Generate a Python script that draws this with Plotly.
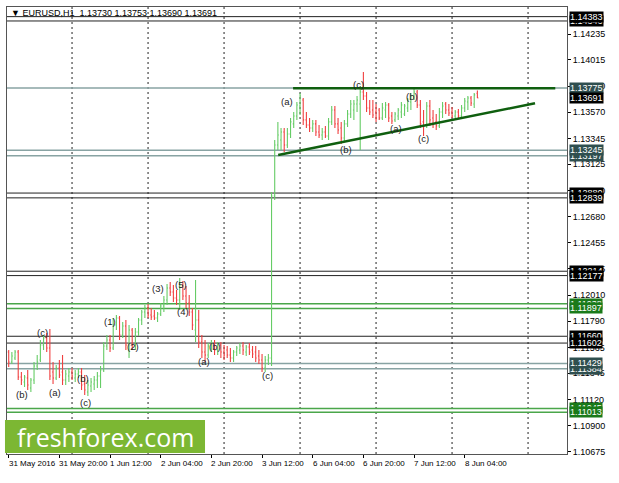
import plotly.graph_objects as go

# ---- data (EURUSD H1) ----
opens = [1.11526,1.11441,1.11475,1.11526,1.11313,1.11270,1.11304,1.11219,1.11287,1.11407,
         1.11458,1.11586,1.11645,1.11560,1.11356,1.11304,1.11390,1.11356,1.11287,1.11322,
         1.11356,1.11304,1.11339,1.11356,1.11253,1.11185,1.11236,1.11253,1.11287,1.11322,
         1.11373,1.11577,1.11628,1.11560,1.11756,1.11816,1.11671,1.11748,1.11543,1.11713,
         1.11586,1.11696,1.11799,1.11867,1.11901,1.11841,1.11833,1.11816,1.11850,1.11918,
         1.11969,1.12071,1.12037,1.11986,1.11969,1.12097,1.12003,1.11943,1.11867,1.11713,
         1.11799,1.11611,1.11526,1.11500,1.11560,1.11603,1.11543,1.11586,1.11526,1.11543,
         1.11500,1.11475,1.11526,1.11543,1.11577,1.11526,1.11569,1.11543,1.11526,1.11492,
         1.11458,1.11390,1.11458,1.11475,1.12855,1.13290,1.13332,1.13400,1.13290,1.13383,
         1.13469,1.13537,1.13622,1.13673,1.13503,1.13460,1.13434,1.13469,1.13400,1.13375,
         1.13400,1.13366,1.13486,1.13588,1.13469,1.13434,1.13349,1.13469,1.13554,1.13588,
         1.13639,1.13639,1.13741,1.13707,1.13605,1.13588,1.13571,1.13588,1.13520,1.13588,
         1.13630,1.13537,1.13503,1.13537,1.13571,1.13554,1.13605,1.13656,1.13707,1.13741,
         1.13630,1.13486,1.13452,1.13622,1.13520,1.13486,1.13452,1.13571,1.13639,1.13588,
         1.13571,1.13537,1.13571,1.13537,1.13605,1.13656,1.13690,1.13639,1.13730]
highs = [1.11543,1.11526,1.11543,1.11543,1.11356,1.11330,1.11373,1.11304,1.11441,1.11500,
         1.11628,1.11671,1.11688,1.11722,1.11441,1.11415,1.11458,1.11500,1.11373,1.11390,
         1.11390,1.11373,1.11390,1.11390,1.11330,1.11287,1.11304,1.11322,1.11356,1.11407,
         1.11611,1.11671,1.11671,1.11816,1.11841,1.11833,1.11782,1.11799,1.11756,1.11730,
         1.11730,1.11816,1.11884,1.11926,1.11935,1.11901,1.11884,1.11867,1.11943,1.12003,
         1.12105,1.12122,1.12097,1.12054,1.12156,1.12131,1.12088,1.12012,1.11901,1.12139,
         1.11884,1.11671,1.11628,1.11603,1.11628,1.11628,1.11611,1.11611,1.11586,1.11577,
         1.11560,1.11543,1.11577,1.11603,1.11611,1.11586,1.11603,1.11577,1.11577,1.11543,
         1.11509,1.11492,1.11509,1.12889,1.13332,1.13486,1.13434,1.13434,1.13434,1.13520,
         1.13571,1.13656,1.13733,1.13690,1.13571,1.13520,1.13503,1.13503,1.13460,1.13434,
         1.13452,1.13520,1.13622,1.13622,1.13520,1.13486,1.13503,1.13588,1.13673,1.13673,
         1.13707,1.13792,1.13912,1.13741,1.13673,1.13673,1.13639,1.13605,1.13647,1.13656,
         1.13647,1.13571,1.13571,1.13605,1.13656,1.13639,1.13690,1.13733,1.13775,1.13758,
         1.13673,1.13588,1.13656,1.13673,1.13588,1.13554,1.13605,1.13656,1.13656,1.13639,
         1.13613,1.13588,1.13596,1.13630,1.13690,1.13707,1.13707,1.13733,1.13753]
lows = [1.11398,1.11424,1.11458,1.11287,1.11245,1.11228,1.11202,1.11185,1.11253,1.11373,
        1.11441,1.11543,1.11526,1.11287,1.11253,1.11287,1.11304,1.11245,1.11245,1.11270,
        1.11287,1.11270,1.11304,1.11202,1.11160,1.11151,1.11185,1.11202,1.11219,1.11219,
        1.11356,1.11543,1.11526,1.11543,1.11713,1.11628,1.11645,1.11543,1.11475,1.11543,
        1.11543,1.11662,1.11756,1.11816,1.11816,1.11799,1.11799,1.11782,1.11833,1.11867,
        1.11926,1.12003,1.11952,1.11926,1.11884,1.11969,1.11901,1.11833,1.11713,1.11611,
        1.11560,1.11475,1.11441,1.11475,1.11526,1.11500,1.11500,1.11475,1.11458,1.11475,
        1.11441,1.11441,1.11492,1.11509,1.11500,1.11492,1.11500,1.11475,1.11441,1.11424,
        1.11356,1.11356,1.11415,1.11407,1.12821,1.13247,1.13247,1.13230,1.13264,1.13349,
        1.13434,1.13503,1.13545,1.13460,1.13434,1.13400,1.13400,1.13366,1.13349,1.13332,
        1.13349,1.13332,1.13460,1.13434,1.13383,1.13298,1.13315,1.13443,1.13520,1.13503,
        1.13571,1.13247,1.13673,1.13571,1.13545,1.13520,1.13486,1.13503,1.13503,1.13520,
        1.13486,1.13469,1.13486,1.13503,1.13520,1.13537,1.13571,1.13588,1.13673,1.13605,
        1.13434,1.13366,1.13434,1.13452,1.13434,1.13417,1.13434,1.13520,1.13554,1.13537,
        1.13520,1.13520,1.13511,1.13520,1.13571,1.13588,1.13622,1.13605,1.13690]
closes = [1.11441,1.11492,1.11526,1.11313,1.11287,1.11313,1.11245,1.11287,1.11407,1.11441,
          1.11586,1.11645,1.11560,1.11322,1.11304,1.11390,1.11330,1.11287,1.11339,1.11356,
          1.11322,1.11339,1.11356,1.11245,1.11202,1.11245,1.11270,1.11287,1.11322,1.11373,
          1.11577,1.11628,1.11560,1.11756,1.11816,1.11671,1.11748,1.11586,1.11713,1.11586,
          1.11696,1.11799,1.11867,1.11901,1.11841,1.11824,1.11816,1.11850,1.11918,1.11969,
          1.12071,1.12037,1.11986,1.11969,1.12097,1.12003,1.11943,1.11867,1.11756,1.11799,
          1.11611,1.11526,1.11500,1.11577,1.11603,1.11543,1.11586,1.11526,1.11500,1.11500,
          1.11475,1.11526,1.11560,1.11577,1.11543,1.11569,1.11526,1.11509,1.11475,1.11458,
          1.11390,1.11458,1.11475,1.12855,1.13290,1.13375,1.13400,1.13290,1.13383,1.13486,
          1.13537,1.13630,1.13707,1.13503,1.13460,1.13434,1.13469,1.13400,1.13375,1.13400,
          1.13366,1.13486,1.13588,1.13469,1.13417,1.13349,1.13469,1.13554,1.13639,1.13639,
          1.13673,1.13741,1.13707,1.13605,1.13571,1.13545,1.13520,1.13520,1.13605,1.13630,
          1.13520,1.13494,1.13554,1.13588,1.13630,1.13622,1.13673,1.13707,1.13741,1.13630,
          1.13469,1.13452,1.13622,1.13503,1.13469,1.13452,1.13571,1.13622,1.13588,1.13562,
          1.13537,1.13571,1.13537,1.13605,1.13664,1.13690,1.13647,1.13716,1.13691]

tick_idx = [0, 16, 32, 48, 64, 80, 96, 112, 128, 144]
tick_text = ["31 May 2016", "31 May 20:00", "1 Jun 12:00", "2 Jun 04:00", "2 Jun 20:00",
             "3 Jun 12:00", "6 Jun 04:00", "6 Jun 20:00", "7 Jun 12:00", "8 Jun 04:00"]
day_starts = [20, 44, 68, 92, 116, 140, 164]

price_ticks = [1.14235, 1.14015, 1.13790, 1.13570, 1.13345, 1.13125, 1.12900, 1.12680,
               1.12455, 1.12235, 1.12010, 1.11790, 1.11565, 1.11345, 1.11120, 1.10900, 1.10675]

# horizontal levels: (price, kind) -- drawn in order, later on top
levels = [(1.14346, "black"), (1.14383, "black"), (1.13775, "slate"),
          (1.13197, "slate"), (1.13245, "slate"), (1.12880, "black"), (1.12839, "black"),
          (1.12214, "black"), (1.12177, "black"), (1.11938, "green"), (1.11897, "green"),
          (1.11660, "black"), (1.11602, "black"), (1.11384, "slate"), (1.11429, "slate"),
          (1.11045, "green"), (1.11013, "green")]
current_price = 1.13691

# trend lines (bar index, price)
resist_line = [(89.8, 1.13773), (172.6, 1.13773)]
support_line = [(85.1, 1.13204), (166.2, 1.13645)]

# wave labels (bar index, price, text)
wave_labels = [(4.2, 1.11160, "(b)"), (10.8, 1.11688, "(c)"), (14.6, 1.11185, "(a)"),
               (23.5, 1.11304, "(b)"), (24.4, 1.11100, "(c)"), (32.0, 1.11782, "(1)"),
               (39.3, 1.11577, "(2)"), (47.1, 1.12071, "(3)"), (54.4, 1.12105, "(5)"),
               (55.0, 1.11875, "(4)"), (61.7, 1.11441, "(a)"), (65.1, 1.11569, "(b)"),
               (81.6, 1.11322, "(c)"), (87.9, 1.13664, "(a)"), (106.5, 1.13247, "(b)"),
               (110.6, 1.13801, "(c)"), (122.3, 1.13434, "(a)"), (127.3, 1.13699, "(b)"),
               (131.1, 1.13341, "(c)")]

header = "▼ EURUSD,H1  1.13730 1.13753 1.13690 1.13691"

# ---- styling ----
UP = "#66CC66"
DOWN = "#F04040"
line_col = {"black": "#222222", "slate": "#88a3a3", "green": "#4aa64a"}
line_w = {"black": 1, "slate": 1.5, "green": 1.5}
box_col = {"black": "#000000", "slate": "#2F4F4F", "green": "#1a7a1a"}
FONT = "Liberation Sans"

x = list(range(len(opens)))
fig = go.Figure(go.Ohlc(
    x=x, open=opens, high=highs, low=lows, close=closes,
    increasing=dict(line=dict(color=UP, width=1.1)),
    decreasing=dict(line=dict(color=DOWN, width=1.1)),
    tickwidth=0.3, hoverinfo="skip"))

shapes = []
for d in day_starts:
    shapes.append(dict(type="line", xref="x", yref="paper", x0=d, x1=d, y0=0, y1=1,
                       line=dict(color="#222222", width=1, dash="2px,3px"), layer="below"))
for p, k in levels:
    shapes.append(dict(type="line", xref="paper", yref="y", x0=0, x1=1, y0=p, y1=p,
                       line=dict(color=line_col[k], width=line_w[k]), layer="below"))
for ln in (resist_line, support_line):
    shapes.append(dict(type="line", xref="x", yref="y", x0=ln[0][0], y0=ln[0][1],
                       x1=ln[1][0], y1=ln[1][1], line=dict(color="#0f5f0f", width=2.5)))
# logo box
shapes.append(dict(type="rect", xref="paper", yref="paper", x0=-0.0036, x1=0.3536,
                   y0=0.002, y1=0.076, fillcolor="#7CB733", line=dict(width=0)))

ann = []
for p, k in levels:
    ann.append(dict(xref="paper", yref="y", x=1, y=p, xanchor="left", yanchor="middle",
                    xshift=2, text=f"{p:.5f}", showarrow=False, bgcolor=box_col[k],
                    font=dict(family=FONT, size=9, color="white"), borderpad=0))
ann.append(dict(xref="paper", yref="y", x=1, y=current_price, xanchor="left", yanchor="middle",
                xshift=2, text=f"{current_price:.5f}", showarrow=False, bgcolor="#000000",
                font=dict(family=FONT, size=9, color="white"), borderpad=0))
for i, t in zip(tick_idx, tick_text):
    ann.append(dict(xref="x", yref="paper", x=i, y=0, xanchor="left", yanchor="top",
                    xshift=-2, yshift=-3, text=t, showarrow=False,
                    font=dict(family=FONT, size=8, color="#000000")))
for i, p, t in wave_labels:
    ann.append(dict(xref="x", yref="y", x=i, y=p, text=t, showarrow=False,
                    font=dict(family=FONT, size=9.5, color="#222222")))
ann.append(dict(xref="paper", yref="paper", x=0.004, y=1, xanchor="left", yanchor="top",
                yshift=1, text=header, showarrow=False,
                font=dict(family=FONT, size=9, color="#000000")))
ann.append(dict(xref="paper", yref="paper", x=0.175, y=0.039, xanchor="center", yanchor="middle",
                text="freshforex.com", showarrow=False,
                font=dict(family="Open Sans", size=25, color="white")))

fig.update_layout(
    width=619, height=483,
    margin=dict(l=7, r=52, t=7, b=29),
    paper_bgcolor="white", plot_bgcolor="white",
    showlegend=False, shapes=shapes, annotations=ann,
    xaxis=dict(range=[-0.54, 176.3], rangeslider=dict(visible=False), showgrid=False,
               zeroline=False, tickvals=tick_idx, ticktext=[""] * len(tick_idx),
               ticks="outside", ticklen=3, tickcolor="#000", showline=True,
               linecolor="#555", mirror=True, linewidth=1),
    yaxis=dict(range=[1.10657, 1.14465], side="right", showgrid=False, zeroline=False,
               tickvals=price_ticks, ticktext=[f"{v:.5f}" for v in price_ticks],
               ticks="outside", ticklen=3, tickcolor="#000", showline=True,
               linecolor="#555", mirror=True, linewidth=1,
               tickfont=dict(family=FONT, size=9, color="#000")),
)

fig.write_html("out.html", config={"displayModeBar": False},
               post_script="document.body.style.margin='0px';")
